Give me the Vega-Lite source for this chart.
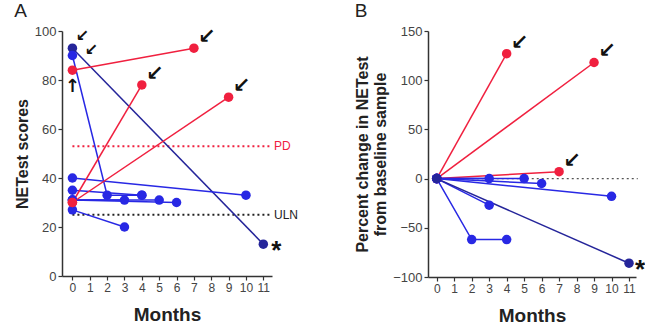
{
  "$schema": "https://vega.github.io/schema/vega-lite/v6.json",
  "background": "white",
  "padding": {"left": 14, "top": 2, "right": 5, "bottom": 0},
  "config": {
    "font": "Liberation Sans",
    "view": {"stroke": null},
    "axis": {"grid": false, "domainColor": "#333", "domainWidth": 1.5, "tickColor": "#333", "tickWidth": 1.2, "tickSize": 4, "labelFontSize": 13, "labelColor": "#444", "labelFont": "Liberation Sans", "titleFont": "Liberation Sans", "titleFontWeight": "bold", "titleColor": "#222", "labelOverlap": false},
    "title": {"fontSize": 19, "fontWeight": "normal", "anchor": "start", "frame": "bounds", "color": "#222", "font": "Liberation Sans"}
  },
  "datasets": {
    "a_lines": [
      {"id": "a1", "grp": "navy", "month": 0, "value": 93},
      {"id": "a1", "grp": "navy", "month": 11, "value": 13},
      {"id": "a2", "grp": "blue", "month": 0, "value": 90},
      {"id": "a2", "grp": "blue", "month": 2, "value": 33},
      {"id": "a2", "grp": "blue", "month": 4, "value": 33},
      {"id": "a3", "grp": "blue", "month": 0, "value": 40},
      {"id": "a3", "grp": "blue", "month": 10, "value": 33},
      {"id": "a4", "grp": "blue", "month": 0, "value": 35},
      {"id": "a4", "grp": "blue", "month": 4, "value": 33},
      {"id": "a5", "grp": "blue", "month": 0, "value": 31},
      {"id": "a5", "grp": "blue", "month": 3, "value": 31},
      {"id": "a6", "grp": "blue", "month": 0, "value": 31},
      {"id": "a6", "grp": "blue", "month": 5, "value": 31},
      {"id": "a7", "grp": "blue", "month": 0, "value": 31},
      {"id": "a7", "grp": "blue", "month": 6, "value": 30},
      {"id": "a8", "grp": "blue", "month": 0, "value": 27},
      {"id": "a8", "grp": "blue", "month": 3, "value": 20},
      {"id": "a9", "grp": "red", "month": 0, "value": 84},
      {"id": "a9", "grp": "red", "month": 7, "value": 93},
      {"id": "a10", "grp": "red", "month": 0, "value": 30},
      {"id": "a10", "grp": "red", "month": 4, "value": 78},
      {"id": "a11", "grp": "red", "month": 0, "value": 30},
      {"id": "a11", "grp": "red", "month": 9, "value": 73}
    ],
    "a_refs": [
      {"name": "PD", "value": 53, "start": 0, "end": 11.5, "grp": "red"},
      {"name": "ULN", "value": 25, "start": 0, "end": 11.5, "grp": "black"}
    ],
    "a_arrows": [
      {"month": 7, "value": 93, "label": "↙"},
      {"month": 4, "value": 78, "label": "↙"},
      {"month": 9, "value": 73, "label": "↙"}
    ],
    "b_lines": [
      {"id": "b1", "grp": "red", "month": 0, "value": 0},
      {"id": "b1", "grp": "red", "month": 4, "value": 127},
      {"id": "b2", "grp": "red", "month": 0, "value": 0},
      {"id": "b2", "grp": "red", "month": 9, "value": 118},
      {"id": "b3", "grp": "red", "month": 0, "value": 0},
      {"id": "b3", "grp": "red", "month": 7, "value": 7},
      {"id": "b4", "grp": "blue", "month": 0, "value": 0},
      {"id": "b4", "grp": "blue", "month": 3, "value": 0},
      {"id": "b5", "grp": "blue", "month": 0, "value": 0},
      {"id": "b5", "grp": "blue", "month": 5, "value": 0},
      {"id": "b6", "grp": "blue", "month": 0, "value": 0},
      {"id": "b6", "grp": "blue", "month": 6, "value": -5},
      {"id": "b7", "grp": "blue", "month": 0, "value": 0},
      {"id": "b7", "grp": "blue", "month": 10, "value": -18},
      {"id": "b8", "grp": "blue", "month": 0, "value": 0},
      {"id": "b8", "grp": "blue", "month": 3, "value": -27},
      {"id": "b9", "grp": "blue", "month": 0, "value": 0},
      {"id": "b9", "grp": "blue", "month": 2, "value": -62},
      {"id": "b9", "grp": "blue", "month": 4, "value": -62},
      {"id": "b10", "grp": "navy", "month": 0, "value": 0},
      {"id": "b10", "grp": "navy", "month": 11, "value": -86}
    ],
    "b_arrows": [
      {"month": 4, "value": 127, "label": "↙"},
      {"month": 9, "value": 118, "label": "↙"},
      {"month": 7, "value": 7, "label": "↙"}
    ]
  },
  "hconcat": [
    {
      "title": {"text": "A", "offset": 4},
      "width": 210,
      "height": 245,
      "layer": [
        {
          "data": {"name": "a_refs"},
          "mark": {"type": "rule", "strokeDash": [2, 3], "strokeWidth": 2},
          "encoding": {
            "x": {"field": "start", "type": "quantitative"},
            "x2": {"field": "end"},
            "y": {"field": "value", "type": "quantitative"},
            "color": {"field": "grp", "type": "nominal", "legend": null}
          }
        },
        {
          "data": {"name": "a_refs"},
          "mark": {"type": "text", "align": "left", "dx": 2, "fontSize": 12},
          "encoding": {
            "x": {"field": "end", "type": "quantitative"},
            "y": {"field": "value", "type": "quantitative"},
            "text": {"field": "name"},
            "color": {"field": "grp", "type": "nominal", "legend": null}
          }
        },
        {
          "data": {"name": "a_lines"},
          "mark": {"type": "line", "strokeWidth": 1.5},
          "encoding": {
            "x": {"field": "month", "type": "quantitative", "scale": {"domain": [-0.6, 11.5], "nice": false, "zero": false}, "axis": {"values": [0,1,2,3,4,5,6,7,8,9,10,11], "format": "d", "tickCount": 24, "title": "Months", "titleFontSize": 19, "titlePadding": 12, "labelFontSize": 12, "labelFlush": false, "labelOverlap": false, "labelBound": false}},
            "y": {"field": "value", "type": "quantitative", "scale": {"domain": [0, 100], "nice": false}, "axis": {"values": [0,20,40,60,80,100], "title": "NETest scores", "titleFontSize": 16}},
            "detail": {"field": "id"},
            "color": {"field": "grp", "type": "nominal", "scale": {"domain": ["red", "blue", "navy", "black"], "range": ["#f0203f", "#2828e4", "#25259a", "#222222"]}, "legend": null}
          }
        },
        {
          "data": {"name": "a_lines"},
          "mark": {"type": "point", "filled": true, "size": 90, "opacity": 1},
          "encoding": {
            "x": {"field": "month", "type": "quantitative"},
            "y": {"field": "value", "type": "quantitative"},
            "color": {"field": "grp", "type": "nominal", "legend": null}
          }
        },
        {
          "data": {"name": "a_arrows"},
          "mark": {"type": "text", "fontSize": 21, "fontWeight": "bold", "font": "DejaVu Sans", "dx": 13, "dy": -11, "color": "#111"},
          "encoding": {
            "x": {"field": "month", "type": "quantitative"},
            "y": {"field": "value", "type": "quantitative"},
            "text": {"field": "label"}
          }
        },
        {
          "data": {"values": [{"month": 0, "value": 93, "label": "↙"}]},
          "mark": {"type": "text", "fontSize": 16, "fontWeight": "bold", "font": "DejaVu Sans", "dx": 10, "dy": -12, "color": "#111"},
          "encoding": {
            "x": {"field": "month", "type": "quantitative"},
            "y": {"field": "value", "type": "quantitative"},
            "text": {"field": "label"}
          }
        },
        {
          "data": {"values": [{"month": 0, "value": 90, "label": "↙"}]},
          "mark": {"type": "text", "fontSize": 16, "fontWeight": "bold", "font": "DejaVu Sans", "dx": 19, "dy": -6, "color": "#111"},
          "encoding": {
            "x": {"field": "month", "type": "quantitative"},
            "y": {"field": "value", "type": "quantitative"},
            "text": {"field": "label"}
          }
        },
        {
          "data": {"values": [{"month": 0, "value": 84, "label": "↑"}]},
          "mark": {"type": "text", "fontSize": 18, "fontWeight": "bold", "font": "DejaVu Sans", "dy": 17, "color": "#111"},
          "encoding": {
            "x": {"field": "month", "type": "quantitative"},
            "y": {"field": "value", "type": "quantitative"},
            "text": {"field": "label"}
          }
        },
        {
          "data": {"values": [{"month": 11, "value": 13, "label": "*"}]},
          "mark": {"type": "text", "fontSize": 26, "fontWeight": "bold", "dx": 13, "dy": 7, "color": "#111"},
          "encoding": {
            "x": {"field": "month", "type": "quantitative"},
            "y": {"field": "value", "type": "quantitative"},
            "text": {"field": "label"}
          }
        }
      ]
    },
    {
      "title": {"text": "B", "offset": 4},
      "width": 208,
      "height": 246,
      "layer": [
        {
          "data": {"values": [{"value": 0, "start": 0, "end": 11.5}]},
          "mark": {"type": "rule", "strokeDash": [2, 3], "strokeWidth": 1.2, "color": "#555"},
          "encoding": {
            "x": {"field": "start", "type": "quantitative"},
            "x2": {"field": "end"},
            "y": {"field": "value", "type": "quantitative"}
          }
        },
        {
          "data": {"name": "b_lines"},
          "mark": {"type": "line", "strokeWidth": 1.5},
          "encoding": {
            "x": {"field": "month", "type": "quantitative", "scale": {"domain": [-0.5, 11.4], "nice": false, "zero": false}, "axis": {"values": [0,1,2,3,4,5,6,7,8,9,10,11], "format": "d", "tickCount": 24, "title": "Months", "titleFontSize": 19, "titlePadding": 12, "labelFontSize": 12, "labelFlush": false, "labelOverlap": false, "labelBound": false}},
            "y": {"field": "value", "type": "quantitative", "scale": {"domain": [-100, 150], "nice": false}, "axis": {"values": [-100,-50,0,50,100,150], "title": ["Percent change in NETest", "from baseline sample"], "titleFontSize": 16}},
            "detail": {"field": "id"},
            "color": {"field": "grp", "type": "nominal", "scale": {"domain": ["red", "blue", "navy"], "range": ["#f0203f", "#2828e4", "#25259a"]}, "legend": null}
          }
        },
        {
          "data": {"name": "b_lines"},
          "mark": {"type": "point", "filled": true, "size": 90, "opacity": 1},
          "encoding": {
            "x": {"field": "month", "type": "quantitative"},
            "y": {"field": "value", "type": "quantitative"},
            "color": {"field": "grp", "type": "nominal", "legend": null}
          }
        },
        {
          "data": {"name": "b_arrows"},
          "mark": {"type": "text", "fontSize": 21, "fontWeight": "bold", "font": "DejaVu Sans", "dx": 13, "dy": -11, "color": "#111"},
          "encoding": {
            "x": {"field": "month", "type": "quantitative"},
            "y": {"field": "value", "type": "quantitative"},
            "text": {"field": "label"}
          }
        },
        {
          "data": {"values": [{"month": 11, "value": -86, "label": "*"}]},
          "mark": {"type": "text", "fontSize": 26, "fontWeight": "bold", "dx": 11, "dy": 7, "color": "#111"},
          "encoding": {
            "x": {"field": "month", "type": "quantitative"},
            "y": {"field": "value", "type": "quantitative"},
            "text": {"field": "label"}
          }
        }
      ]
    }
  ],
  "spacing": 55
}
